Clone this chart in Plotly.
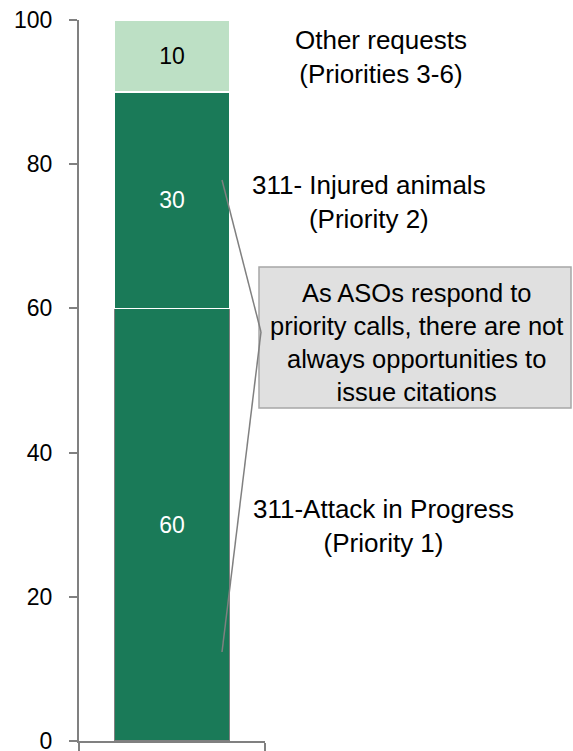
import plotly.graph_objects as go

# stacked shares of calls by priority
categories = ["Calls"]
segment_names = ["311-Attack in Progress (Priority 1)",
                 "311- Injured animals (Priority 2)",
                 "Other requests (Priorities 3-6)"]
segment_values = [60, 30, 10]
segment_colors = ["#1a7a58", "#1a7a58", "#bde0c5"]
segment_edges = ["#808080", "#ffffff", "#ffffff"]
segment_text_colors = ["white", "white", "black"]

side_labels = ["311-Attack in Progress<br>(Priority 1)",
               "311- Injured animals<br>(Priority 2)",
               "Other requests<br>(Priorities 3-6)"]
callout_text = "As ASOs respond to<br>priority calls, there are not<br>always opportunities to<br>issue citations"

y_ticks = [0, 20, 40, 60, 80, 100]

W, H = 573, 751
L, R, T, B = 79, 265, 20, 741   # plot box in pixels


def pp(px, py):
    # pixel -> paper coords
    return (px - L) / (R - L), (B - py) / (B - T)


fig = go.Figure()
for name, v, c, e, tc in zip(segment_names, segment_values, segment_colors,
                             segment_edges, segment_text_colors):
    fig.add_trace(go.Bar(
        x=[0], y=[v], name=name, width=0.62,
        marker=dict(color=c, line=dict(color=e, width=1.5)),
        text=[str(v)], textposition="inside", insidetextanchor="middle",
        textfont=dict(color=tc, size=23, family="Liberation Sans, Arial"),
        textangle=0, hoverinfo="name+y",
    ))

# side labels next to the bar
label_pos = [(383, 526), (369, 202), (381, 57)]
for txt, (px, py) in zip(side_labels, label_pos):
    x, y = pp(px, py)
    fig.add_annotation(x=x, y=y, xref="paper", yref="paper", text=txt,
                       showarrow=False, xanchor="center", yanchor="middle",
                       font=dict(size=26, color="black"))

# grey callout box + connector lines
x0, y0 = pp(259, 408)
x1, y1 = pp(571, 267)
fig.add_shape(type="rect", xref="paper", yref="paper", x0=x0, y0=y0, x1=x1, y1=y1,
              fillcolor="#e0e0e0", line=dict(color="#a6a6a6", width=1.5))
cx, cy = pp(416, 342)
fig.add_annotation(x=cx, y=cy, xref="paper", yref="paper", text=callout_text,
                   showarrow=False, xanchor="center", yanchor="middle",
                   font=dict(size=25.5, color="black"))
bx, by = pp(261, 332)
for (ax, ay) in [(222, 180), (222, 652)]:
    ex, ey = pp(ax, ay)
    fig.add_shape(type="line", xref="paper", yref="paper", x0=ex, y0=ey, x1=bx, y1=by,
                  line=dict(color="#808080", width=1.5))

fig.update_layout(
    width=W, height=H, barmode="stack", showlegend=False,
    margin=dict(l=L, r=W - R, t=T, b=H - B, pad=0, autoexpand=False),
    plot_bgcolor="white", paper_bgcolor="white",
    font=dict(family="Liberation Sans, Arial", size=24, color="black"),
    xaxis=dict(range=[-0.5, 0.5], showgrid=False, zeroline=False, showline=True,
               linecolor="#808080", linewidth=2, ticks="outside",
               tickvals=[-0.5, 0.5], ticklen=8, tickwidth=2, tickcolor="#808080",
               showticklabels=False, fixedrange=True, automargin=False),
    yaxis=dict(range=[0, 100], tickvals=y_ticks, showgrid=False, zeroline=False,
               showline=True, linecolor="#808080", linewidth=2, ticks="outside",
               ticklen=8, tickwidth=2, tickcolor="#808080", ticklabelstandoff=12,
               ticklabeloverflow="allow",
               tickfont=dict(size=23, color="black"), fixedrange=True,
               automargin=False),
)

# drop the default body margin so the figure sits at the page corner
fig.write_html("out.html", config={"displayModeBar": False},
               post_script="document.body.style.margin='0';document.body.style.overflow='hidden';")
